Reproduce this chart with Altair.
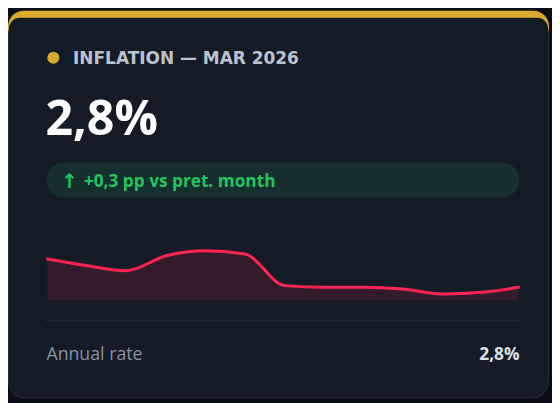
import altair as alt
import pandas as pd

# ---- data ----
months = ["2025-03-01", "2025-04-01", "2025-05-01", "2025-06-01", "2025-07-01",
          "2025-08-01", "2025-09-01", "2025-10-01", "2025-11-01", "2025-12-01",
          "2026-01-01", "2026-02-01", "2026-03-01"]
rates = [4.5, 4.1, 3.8, 4.7, 5.0, 4.8, 2.9, 2.8, 2.8, 2.7, 2.4, 2.5, 2.8]
y_domain = [2.0, 5.0]

title_text = "INFLATION — MAR 2026"
headline_text = "2,8%"
delta_arrow = "↑"
delta_text = "+0,3 pp vs pret. month"
footer_label = "Annual rate"
footer_value = "2,8%"

# ---- style ----
PAGE_BG = "#0b0e17"
CARD_BG = "#151a27"
BORDER = "#272e3f"
GOLD = "#d9aa2c"
RED = "#ff2453"
GREEN = "#22c55e"
FONT = "Open Sans"
W, H = 552, 395   # view fills the window inside the 8px page margin
O = 8             # page margin: page coords -> view coords


def one():
    return alt.Data(values=[{"k": 1}])


def rect(x, x2, y, y2, **kw):
    return alt.Chart(one()).mark_rect(**kw).encode(
        x=alt.value(x - O), x2=alt.value(x2 - O), y=alt.value(y - O), y2=alt.value(y2 - O))


def text(s, x, y, font=FONT, **kw):
    return alt.Chart(one()).mark_text(text=s, baseline="alphabetic", font=font, **kw).encode(
        x=alt.value(x - O), y=alt.value(y - O))


df = pd.DataFrame({"month": pd.to_datetime(months), "rate": rates})

border = rect(8, 557, 8, 401, cornerRadius=17, color=BORDER)
gold = rect(8, 557, 8, 40, cornerRadius=17, color=GOLD)
body = rect(9, 556, 15, 400, color=CARD_BG, cornerRadiusTopLeft=11, cornerRadiusTopRight=11,
            cornerRadiusBottomLeft=16, cornerRadiusBottomRight=16)

dot = alt.Chart(one()).mark_circle(size=150, color=GOLD, opacity=1).encode(
    x=alt.value(54 - O), y=alt.value(55.5 - O))
title = text(title_text, 74, 62, font="DejaVu Sans", align="left", fontSize=17.2,
             fontWeight="bold", color="#bcc3cf")
headline = text(headline_text, 46, 134, align="left", fontSize=49, fontWeight="bold", color="#ffffff")

pill = rect(47, 527, 162, 197.5, cornerRadius=17.5, color=GREEN, opacity=0.12)
pill_arrow = text(delta_arrow, 62, 188, font="DejaVu Sans", align="left", fontSize=20,
                  fontWeight="bold", color=GREEN)
pill_text = text(delta_text, 85, 187, align="left", fontSize=17.5, fontWeight="bold", color=GREEN)

x_enc = alt.X("month:T", scale=alt.Scale(range=[48 - O, 526 - O], nice=False), axis=None)
y_enc = alt.Y("rate:Q", scale=alt.Scale(domain=y_domain, range=[302 - O, 251.4 - O], nice=False,
                                        zero=False), axis=None)

area = alt.Chart(df).mark_area(interpolate="monotone", color=RED, opacity=0.13).encode(
    x=x_enc, y=y_enc, y2=alt.datum(y_domain[0]))
line = alt.Chart(df).mark_line(interpolate="monotone", color=RED, strokeWidth=3,
                               strokeCap="round").encode(x=x_enc, y=y_enc)

divider = alt.Chart(one()).mark_rule(color="#2c3347", strokeWidth=1).encode(
    x=alt.value(47 - O), x2=alt.value(527 - O), y=alt.value(322.5 - O))
foot_l = text(footer_label, 47, 362, align="left", fontSize=18, color="#8890a5")
foot_r = text(footer_value, 527, 362, align="right", fontSize=17.5, fontWeight="bold", color="#dce0e8")

chart = alt.layer(
    border, gold, body, dot, title, headline, pill, pill_arrow, pill_text, area, line, divider,
    foot_l, foot_r
).properties(
    width=W, height=H, padding=0, autosize="none", background=PAGE_BG,
).configure_view(stroke=None)

chart.save("out.html", embed_options={"renderer": "svg", "actions": False})
